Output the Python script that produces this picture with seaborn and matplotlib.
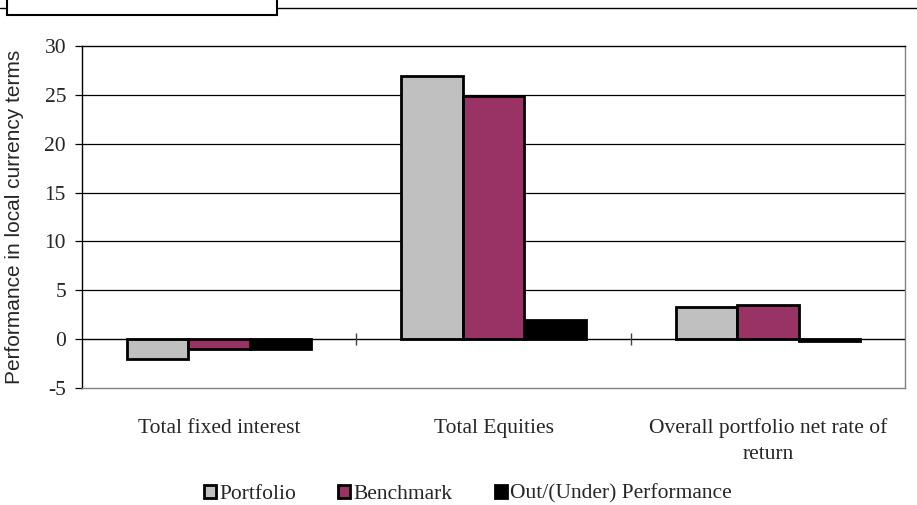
import matplotlib
matplotlib.use("Agg")
import matplotlib.pyplot as plt
from matplotlib.patches import Rectangle
from matplotlib.lines import Line2D
import pandas as pd
import seaborn as sns

# Chart data
categories = ["Total fixed interest", "Total Equities", "Overall portfolio net rate of\nreturn"]
series_names = ["Portfolio", "Benchmark", "Out/(Under) Performance"]
portfolio = [-2.0, 26.9, 3.3]
benchmark = [-1.0, 24.9, 3.5]
out_under = [-1.0, 2.0, -0.2]
y_ticks = [-5, 0, 5, 10, 15, 20, 25, 30]
colors = ["#C0C0C0", "#993366", "#000000"]

rows = []
for name, vals in zip(series_names, [portfolio, benchmark, out_under]):
    for cat, v in zip(categories, vals):
        rows.append({"category": cat, "series": name, "value": v})
df = pd.DataFrame(rows)

sns.set_style("white")
serif = ["Liberation Serif", "DejaVu Serif"]
sans = ["Liberation Sans", "DejaVu Sans"]
fs = 15.5

fig = plt.figure(figsize=(9.17, 5.05), dpi=100)
ax = fig.add_axes([82 / 917, 1 - 388 / 505, (905 - 82) / 917, (388 - 46) / 505])

sns.barplot(data=df, x="category", y="value", hue="series",
            hue_order=series_names, order=categories,
            palette=colors, saturation=1, width=0.673, gap=0, edgecolor="black",
            linewidth=2, ax=ax, errorbar=None, zorder=3)

ax.set_ylim(-5, 30)
ax.set_xlim(-0.5, 2.5)
ax.set_yticks(y_ticks)
ax.set_yticklabels([str(t) for t in y_ticks], fontfamily=serif, fontsize=fs)
for t in y_ticks[2:-1]:
    ax.axhline(t, color="black", lw=0.9, zorder=1)
ax.axhline(0, color="black", lw=1.0, zorder=4)
ax.vlines([0.5, 1.5], -0.65, 0.65, color="#404040", lw=1.0, zorder=4)

ax.tick_params(axis="y", which="both", left=True, length=5, width=0.9,
               color="black", pad=6.5)
ax.tick_params(axis="x", bottom=False, pad=18.5)
ax.set_xticks(range(len(categories)))
ax.set_xticklabels(categories, fontfamily=serif, fontsize=fs, linespacing=1.5,
                   va="top")
ax.set_xlabel("")
ax.set_ylabel("Performance in local currency terms", fontfamily=sans, fontsize=15,
              labelpad=15)

for side in ["left", "top"]:
    ax.spines[side].set_color("black")
    ax.spines[side].set_linewidth(1.0)
for side in ["right", "bottom"]:
    ax.spines[side].set_color("#808080")
    ax.spines[side].set_linewidth(1.0)

handles, labels = ax.get_legend_handles_labels()
if ax.get_legend() is not None:
    ax.get_legend().remove()
leg = fig.legend(handles, labels, loc="center", bbox_to_anchor=(468 / 917, 1 - 494 / 505),
                 ncol=3, frameon=False, prop={"family": serif, "size": fs},
                 handlelength=0.56, handleheight=0.56, handletextpad=0.15,
                 columnspacing=1.95, borderpad=0, borderaxespad=0)

# Header box and rule
fig.add_artist(Line2D([0, 1], [1 - 8 / 505, 1 - 8 / 505], color="black", lw=1.0,
                      transform=fig.transFigure))
fig.add_artist(Rectangle((7 / 917, 1 - 15 / 505), 270 / 917, 0.1, transform=fig.transFigure,
                         facecolor="white", edgecolor="black", lw=1.5, zorder=5))

fig.savefig("out.png", dpi=100)
